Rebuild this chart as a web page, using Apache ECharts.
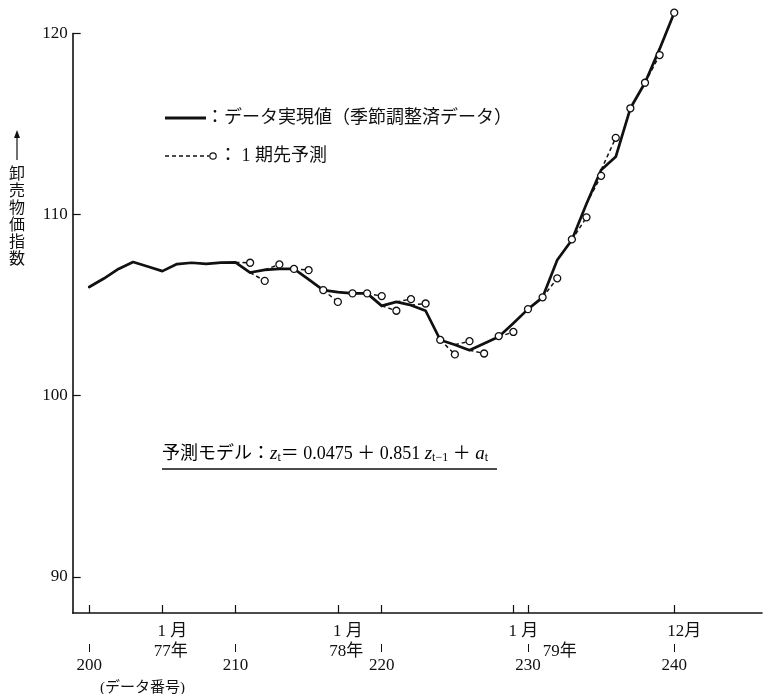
<!DOCTYPE html>
<html><head><meta charset="utf-8">
<script src="https://cdn.jsdelivr.net/npm/echarts@6/dist/echarts.min.js"></script>
<style>html,body{margin:0;padding:0;background:#fff}#c{width:767px;height:694px}</style>
</head><body><div id="c"></div>
<script>
// ---- data ----
const dataNo = [200,201,202,203,204,205,206,207,208,209,210,211,212,213,214,215,216,217,218,219,220,
                221,222,223,224,225,226,227,228,229,230,231,232,233,234,235,236,237,238,239,240];
const actual = [106.0,106.47,107.0,107.38,107.13,106.88,107.27,107.34,107.28,107.35,107.36,
                106.8,106.95,107.0,107.0,106.42,105.83,105.72,105.65,105.65,104.96,
                105.18,105.0,104.69,103.08,102.81,102.51,102.88,103.25,104.0,104.78,
                105.43,107.49,108.6,110.6,112.46,113.19,115.87,117.28,119.15,121.15];
const forecastNo = [211,212,213,214,215,216,217,218,219,220,221,222,223,224,225,226,227,228,229,230,
                    231,232,233,234,235,236,237,238,239,240];
const forecast = [107.34,106.34,107.25,107.0,106.93,105.83,105.18,105.65,105.65,105.5,
                  104.69,105.33,105.09,103.08,102.28,103.01,102.33,103.29,103.52,104.78,
                  105.43,106.48,108.63,109.85,112.14,114.24,115.87,117.28,118.81,121.15];
const yTicks = [90,100,110,120];
const axisTickPos = [200,205,210,217,220,229,230,240];
const monthPos = [205,217,229,240];
const monthLabels = ['1 月','1 月','1 月','12月'];
const yearPos = [205,217,229];
const yearLabels = ['77年','78年','79年'];
const numberPos = [200,210,220,230,240];
const numberLabels = ['200','210','220','230','240'];

const SERIF = "'Liberation Serif','Noto Sans CJK JP',serif";
const INK = '#111';
const X_MIN = 198.87, X_MAX = 246;

const chart = echarts.init(document.getElementById('c'), null, {renderer:'canvas'});

function baseX(extra){
  return Object.assign({
    type:'value', min:X_MIN, max:X_MAX, position:'bottom', gridIndex:0,
    splitLine:{show:false}
  }, extra);
}

const series = [{
  type:'line', name:'actual',
  data: dataNo.map((x,i)=>[x, actual[i]]),
  symbol:'none', clip:false, z:3,
  lineStyle:{color:INK, width:2.7, cap:'round', join:'round'}
}];
forecastNo.forEach((t,k)=>{
  const i = dataNo.indexOf(t-1);
  series.push({
    type:'line', name:'f'+t,
    data:[{value:[dataNo[i], actual[i]], symbol:'none'}, {value:[t, forecast[k]]}],
    symbol:'circle', symbolSize:7, showSymbol:true, clip:false, z:4,
    itemStyle:{color:'#fff', borderColor:INK, borderWidth:1.3},
    lineStyle:{color:INK, width:1.5, type:[4,3]}
  });
});

const option = {
  animation:false,
  backgroundColor:'#fff',
  grid:{left:72.7, right:5, top:33.5, bottom:81, containLabel:false, outerBoundsMode:'none'},
  xAxis:[
    baseX({
      axisLine:{show:true, lineStyle:{color:INK, width:1.6}},
      axisTick:{show:true, inside:true, length:8, customValues:axisTickPos, lineStyle:{color:INK, width:1.2}},
      axisLabel:{show:true, customValues:monthPos, margin:10, align:'center',
        formatter:(v)=>'{m|'+monthLabels[monthPos.indexOf(v)]+'}',
        rich:{m:{fontSize:17, fontFamily:SERIF, color:INK, padding:[0,0,0,20]}}}
    }),
    baseX({
      axisLine:{show:false}, axisTick:{show:false},
      axisLabel:{show:true, customValues:yearPos, margin:30, align:'center',
        formatter:(v)=>{const i=yearPos.indexOf(v); return (i===2?'{b|':'{a|')+yearLabels[i]+'}';},
        rich:{a:{fontSize:17, fontFamily:SERIF, color:INK, padding:[0,0,0,17]},
              b:{fontSize:17, fontFamily:SERIF, color:INK, padding:[0,0,0,93]}}}
    }),
    baseX({
      offset:31,
      axisLine:{show:false},
      axisTick:{show:true, inside:false, length:8, customValues:numberPos, lineStyle:{color:INK, width:1}},
      axisLabel:{show:true, customValues:numberPos, margin:13, align:'center',
        formatter:(v)=>numberLabels[numberPos.indexOf(v)],
        fontSize:17, fontFamily:SERIF, color:INK}
    })
  ],
  yAxis:{
    type:'value', min:88, max:120,
    axisLine:{show:true, lineStyle:{color:INK, width:1.6}},
    axisTick:{show:true, inside:true, length:8, customValues:yTicks, lineStyle:{color:INK, width:1.2}},
    axisLabel:{show:true, customValues:yTicks, margin:5, fontSize:17, fontFamily:SERIF, color:INK},
    splitLine:{show:false}
  },
  series:series,
  graphic:[
    // legend 1
    {type:'line', shape:{x1:165,y1:118,x2:206,y2:118}, style:{stroke:INK, lineWidth:3.2}},
    {type:'text', x:206, y:118, style:{text:'：データ実現値（季節調整済データ）', fontSize:18, fontFamily:SERIF, fill:INK, verticalAlign:'middle'}},
    // legend 2
    {type:'line', shape:{x1:165,y1:156,x2:209,y2:156}, style:{stroke:INK, lineWidth:1.5, lineDash:[4,3]}},
    {type:'circle', shape:{cx:213, cy:156, r:3.2}, style:{fill:'#fff', stroke:INK, lineWidth:1.2}, z:10},
    {type:'text', x:219, y:156, style:{text:'： 1 期先予測', fontSize:18, fontFamily:SERIF, fill:INK, verticalAlign:'middle'}},
    // y axis title
    {type:'line', shape:{x1:17,y1:160,x2:17,y2:135}, style:{stroke:INK, lineWidth:1.2}},
    {type:'polygon', shape:{points:[[17,130],[14,138],[20,138]]}, style:{fill:INK}},
    {type:'text', x:17, y:166, style:{text:'卸\n売\n物\n価\n指\n数', fontSize:16, lineHeight:17, fontFamily:SERIF, fill:INK, align:'center', verticalAlign:'top'}},
    // formula
    {type:'text', x:162, y:454, style:{
      text:'{n|予測モデル：}{i|z}{s|t}{n|＝ 0.0475 ＋ 0.851 }{i|z}{s|t−1}{n| ＋ }{i|a}{s|t}',
      verticalAlign:'middle',
      rich:{
        n:{fontSize:18, fontFamily:SERIF, color:INK},
        i:{fontSize:19, fontFamily:SERIF, fontStyle:'italic', color:INK},
        s:{fontSize:12, fontFamily:SERIF, color:INK, verticalAlign:'bottom'}
      }}},
    {type:'line', shape:{x1:162,y1:469,x2:497,y2:469}, style:{stroke:INK, lineWidth:1.3}},
    // axis name
    {type:'text', x:100, y:688, style:{text:'(データ番号)', fontSize:15, fontFamily:SERIF, fill:INK, verticalAlign:'middle'}}
  ]
};
chart.setOption(option);
</script>
</body></html>
